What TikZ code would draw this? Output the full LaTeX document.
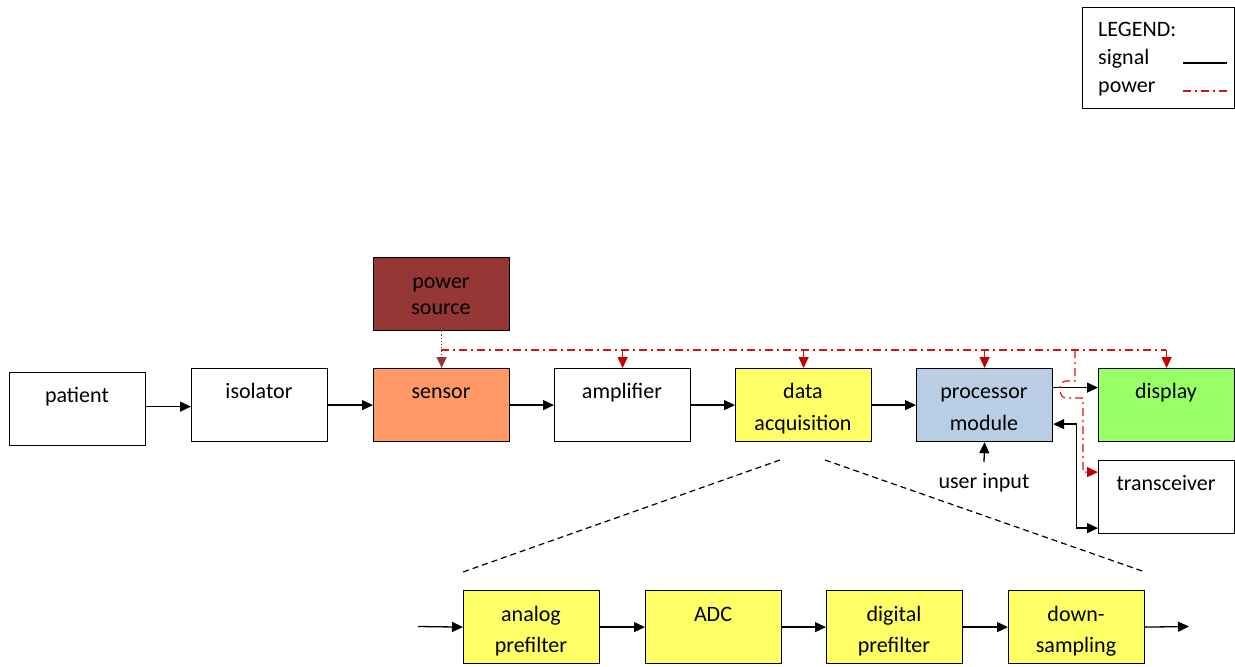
\documentclass[tikz,border=0pt]{standalone}
\usepackage{fontspec}
\setmainfont{Carlito}
\usetikzlibrary{arrows.meta}
\definecolor{sensorc}{RGB}{255,153,102}
\definecolor{powerc}{RGB}{149,55,53}
\definecolor{daqc}{RGB}{255,255,102}
\definecolor{procc}{RGB}{185,205,228}
\definecolor{dispc}{RGB}{153,255,102}
\definecolor{pwrred}{RGB}{210,20,20}
\definecolor{tipred}{RGB}{192,0,0}
\begin{document}
\begin{tikzpicture}[x=1pt,y=-1pt,
  box/.style={draw=black, line width=1.2pt, minimum width=136pt, minimum height=73pt, inner sep=0pt, anchor=north west},
  txt/.style={anchor=base, inner sep=0pt, font=\fontsize{22}{26}\selectfont},
  lbl/.style={inner sep=0pt, font=\fontsize{22}{26}\selectfont},
  sig/.style={line width=1.3pt, -{Triangle[length=11pt,width=10pt]}},
  pwr/.style={draw=pwrred, line width=1.2pt, dash pattern=on 8pt off 4pt on 2pt off 4pt},
  pwrarrow/.style={pwr, -{Triangle[length=11pt,width=10pt,color=tipred]}},
  zoomline/.style={line width=1.2pt, dash pattern=on 6pt off 4pt}
]
\useasboundingbox (0,0) rectangle (1235,667);

% main chain
\node[box] (patient) at (9,372) {};
\node[txt] (tpatient) at (77,402) {patient};
\node[box] (isolator) at (191,368) {};
\node[txt] (tisolator) at (259,398.5) {isolator};
\node[box, fill=sensorc] (sensor) at (373,368) {};
\node[txt] (tsensor) at (441,398.5) {sensor};
\node[box] (amplifier) at (554,368) {};
\node[txt] (tamp) at (622,398.5) {amplifier};
\node[box, fill=daqc] (daq) at (735,368) {};
\node[txt] (tdaq1) at (803,398.5) {data};
\node[txt] (tdaq2) at (803,430) {acquisition};
\node[box, fill=procc] (proc) at (916,368) {};
\node[txt] (tproc1) at (984,398.5) {processor};
\node[txt] (tproc2) at (984,430) {module};
\node[box, fill=dispc] (display) at (1098,368) {};
\node[txt] (tdisp) at (1166,398.5) {display};
\node[box] (trans) at (1098,460) {};
\node[txt] (ttrans) at (1166,490.5) {transceiver};
\node[box, fill=powerc] (power) at (373,257) {};
\node[txt] (tpow1) at (441,288.5) {power};
\node[txt] (tpow2) at (441,314.5) {source};

% sub chain
\node[box, fill=daqc] (analog) at (463,590) {};
\node[txt] (tan1) at (531,621) {analog};
\node[txt] (tan2) at (531,652.5) {prefilter};
\node[box, fill=daqc] (adc) at (645,590) {};
\node[txt] (tadc) at (713,621) {ADC};
\node[box, fill=daqc] (digital) at (826,590) {};
\node[txt] (tdig1) at (894,621) {digital};
\node[txt] (tdig2) at (894,652.5) {prefilter};
\node[box, fill=daqc] (down) at (1008,590) {};
\node[txt] (tdown1) at (1076,621) {down-};
\node[txt] (tdown2) at (1076,652.5) {sampling};

% legend
\node[box, minimum width=152pt, minimum height=101pt] (legend) at (1082,7) {};
\node[lbl, anchor=base west] (lg) at (1098,36) {LEGEND:};
\node[lbl, anchor=base west] (lsig) at (1098,64) {signal};
\node[lbl, anchor=base west] (lpwr) at (1098,92) {power};
\coordinate (ls1) at (1183,63);
\coordinate (ls2) at (1227,63);
\coordinate (lp1) at (1183,91);
\coordinate (lp2) at (1227,91);
\draw[line width=1.2pt] (ls1) -- (ls2);
\draw[pwr] (lp1) -- (lp2);

% signal connectors
\draw[sig] ([yshift=2.5pt]patient.east) -- ([yshift=2.5pt]patient.east -| isolator.west);
\draw[sig] (isolator.east) -- (sensor.west);
\draw[sig] (sensor.east) -- (amplifier.west);
\draw[sig] (amplifier.east) -- (daq.west);
\draw[sig] (daq.east) -- (proc.west);
\draw[sig] ([yshift=17.5pt]proc.east) -- ([yshift=17.5pt]display.west);
\draw[line width=1.3pt, {Triangle[length=11pt,width=10pt]}-{Triangle[length=11pt,width=10pt]}]
  ([yshift=-19pt]proc.east) -- ++(23,0) |- ([yshift=-31pt]trans.west);
\node[lbl, anchor=base] (userin) at (984,488.5) {user input};
\coordinate (uin) at (984,462);
\draw[sig] (uin) -- (proc.south);

% sub chain connectors
\coordinate (subin) at (418,626.5);
\coordinate (subout) at (1189,626.5);
\draw[sig] (subin) -- (analog.west);
\draw[sig] (analog.east) -- (adc.west);
\draw[sig] (adc.east) -- (digital.west);
\draw[sig] (digital.east) -- (down.west);
\draw[sig] (down.east) -- (subout);

% zoom lines
\coordinate (z1) at (780,460);
\coordinate (z2) at (463,572);
\coordinate (z3) at (825,460);
\coordinate (z4) at (1145,572);
\draw[zoomline] (z1) -- (z2);
\draw[zoomline] (z3) -- (z4);

% power
\draw[draw=powerc!80!black, line width=1.2pt, dotted, -{Triangle[length=11pt,width=10pt,color=powerc]}] (power.south) -- (sensor.north);
\coordinate (bus0) at (441,350);
\coordinate (bus1) at (1166,350);
\draw[pwr] (bus0) -- (bus1);
\draw[pwrarrow] (amplifier.north |- bus0) -- (amplifier.north);
\draw[pwrarrow] (daq.north |- bus0) -- (daq.north);
\draw[pwrarrow] (proc.north |- bus0) -- (proc.north);
\draw[pwrarrow] (display.north |- bus0) -- (display.north);
\coordinate (tb) at (1075,350);
\draw[pwrarrow] (tb) -- (1075,381) -- (1066,381) .. controls (1058,381) and (1058,398) .. (1066,398) -- (1083,398) |- ([yshift=25pt]trans.west);
\end{tikzpicture}
\end{document}
